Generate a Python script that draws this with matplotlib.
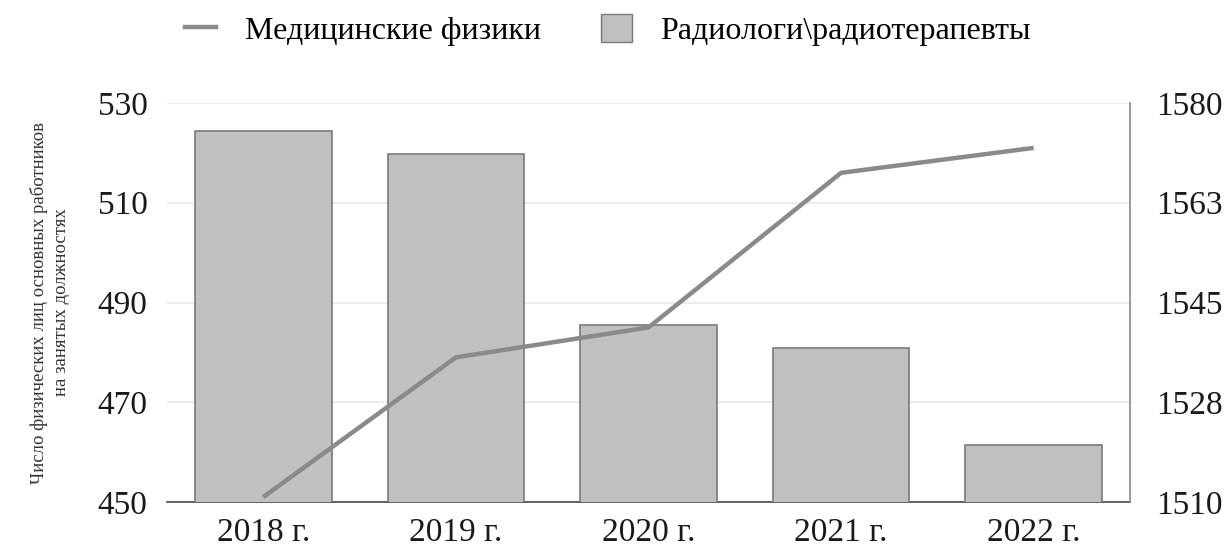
import numpy as np
import matplotlib.pyplot as plt
from matplotlib.lines import Line2D
from matplotlib.patches import Patch

years = ["2018 г.", "2019 г.", "2020 г.", "2021 г.", "2022 г."]
physicists = [451, 479, 485, 516, 521]          # left axis, line
radiologists = [1575, 1571, 1541, 1537, 1520]   # right axis, bars

left_ticks = [450, 470, 490, 510, 530]
right_ticks = [1510, 1527.5, 1545, 1562.5, 1580]
right_labels = ["1510", "1528", "1545", "1563", "1580"]

plt.rcParams['font.family'] = ['Liberation Serif', 'DejaVu Serif']

W, H = 1231, 549
fig = plt.figure(figsize=(W / 100, H / 100), dpi=100)
ax = fig.add_axes([167 / W, (H - 502) / H, 963 / W, 399 / H])
ax2 = ax.twinx()

x = np.arange(len(years))

# bars on the right axis
ax2.bar(x, radiologists, width=0.71, color="#c0c0c0", edgecolor="#7a7a7a",
        linewidth=1.2, zorder=2)
ax2.set_ylim(1510, 1580)
ax2.set_yticks(right_ticks)
ax2.set_yticklabels(right_labels)

ax.set_ylim(450, 530)
ax.set_yticks(left_ticks)
ax.grid(axis="y", color="#ebebeb", linewidth=1.5, zorder=0)
ax.set_axisbelow(True)

# line on top of the bars
ax3 = ax.twinx()
ax3.set_ylim(450, 530)
ax3.plot(x, physicists, color="#8a8a8a", linewidth=3.2, solid_capstyle="butt")
ax3.axis("off")

ax.set_xlim(-0.5, 4.5)
ax.set_xticks(x)
ax.set_xticklabels(years)

for a in (ax, ax2):
    a.spines["top"].set_visible(False)
    a.spines["left"].set_visible(False)
    a.tick_params(labelsize=24, length=0, colors="#1a1a1a")
ax.spines["right"].set_visible(False)
ax2.spines["bottom"].set_visible(False)
ax2.spines["right"].set_color("#8a8a8a")
ax2.spines["right"].set_linewidth(1.2)
ax.spines["bottom"].set_color("#555555")
ax.spines["bottom"].set_linewidth(1.3)
ax.tick_params(axis="y", pad=14)
ax.tick_params(axis="x", pad=11)
ax2.tick_params(axis="y", pad=19)

ax.set_ylabel("Число физических лиц основных работников\nна занятых должностях",
              fontsize=13.5, labelpad=20, color="#333333", linespacing=1.4)

handles = [Line2D([0], [0], color="#8a8a8a", linewidth=3.2),
           Patch(facecolor="#c0c0c0", edgecolor="#7a7a7a")]
fig.legend(handles, ["Медицинские физики", "Радиологи\\радиотерапевты"],
           loc="center", bbox_to_anchor=(0.494, 0.945), ncol=2, frameon=False,
           fontsize=23, handlelength=0.95, handleheight=0.95, handletextpad=0.9,
           columnspacing=1.9)

fig.savefig("out.png", dpi=100)
